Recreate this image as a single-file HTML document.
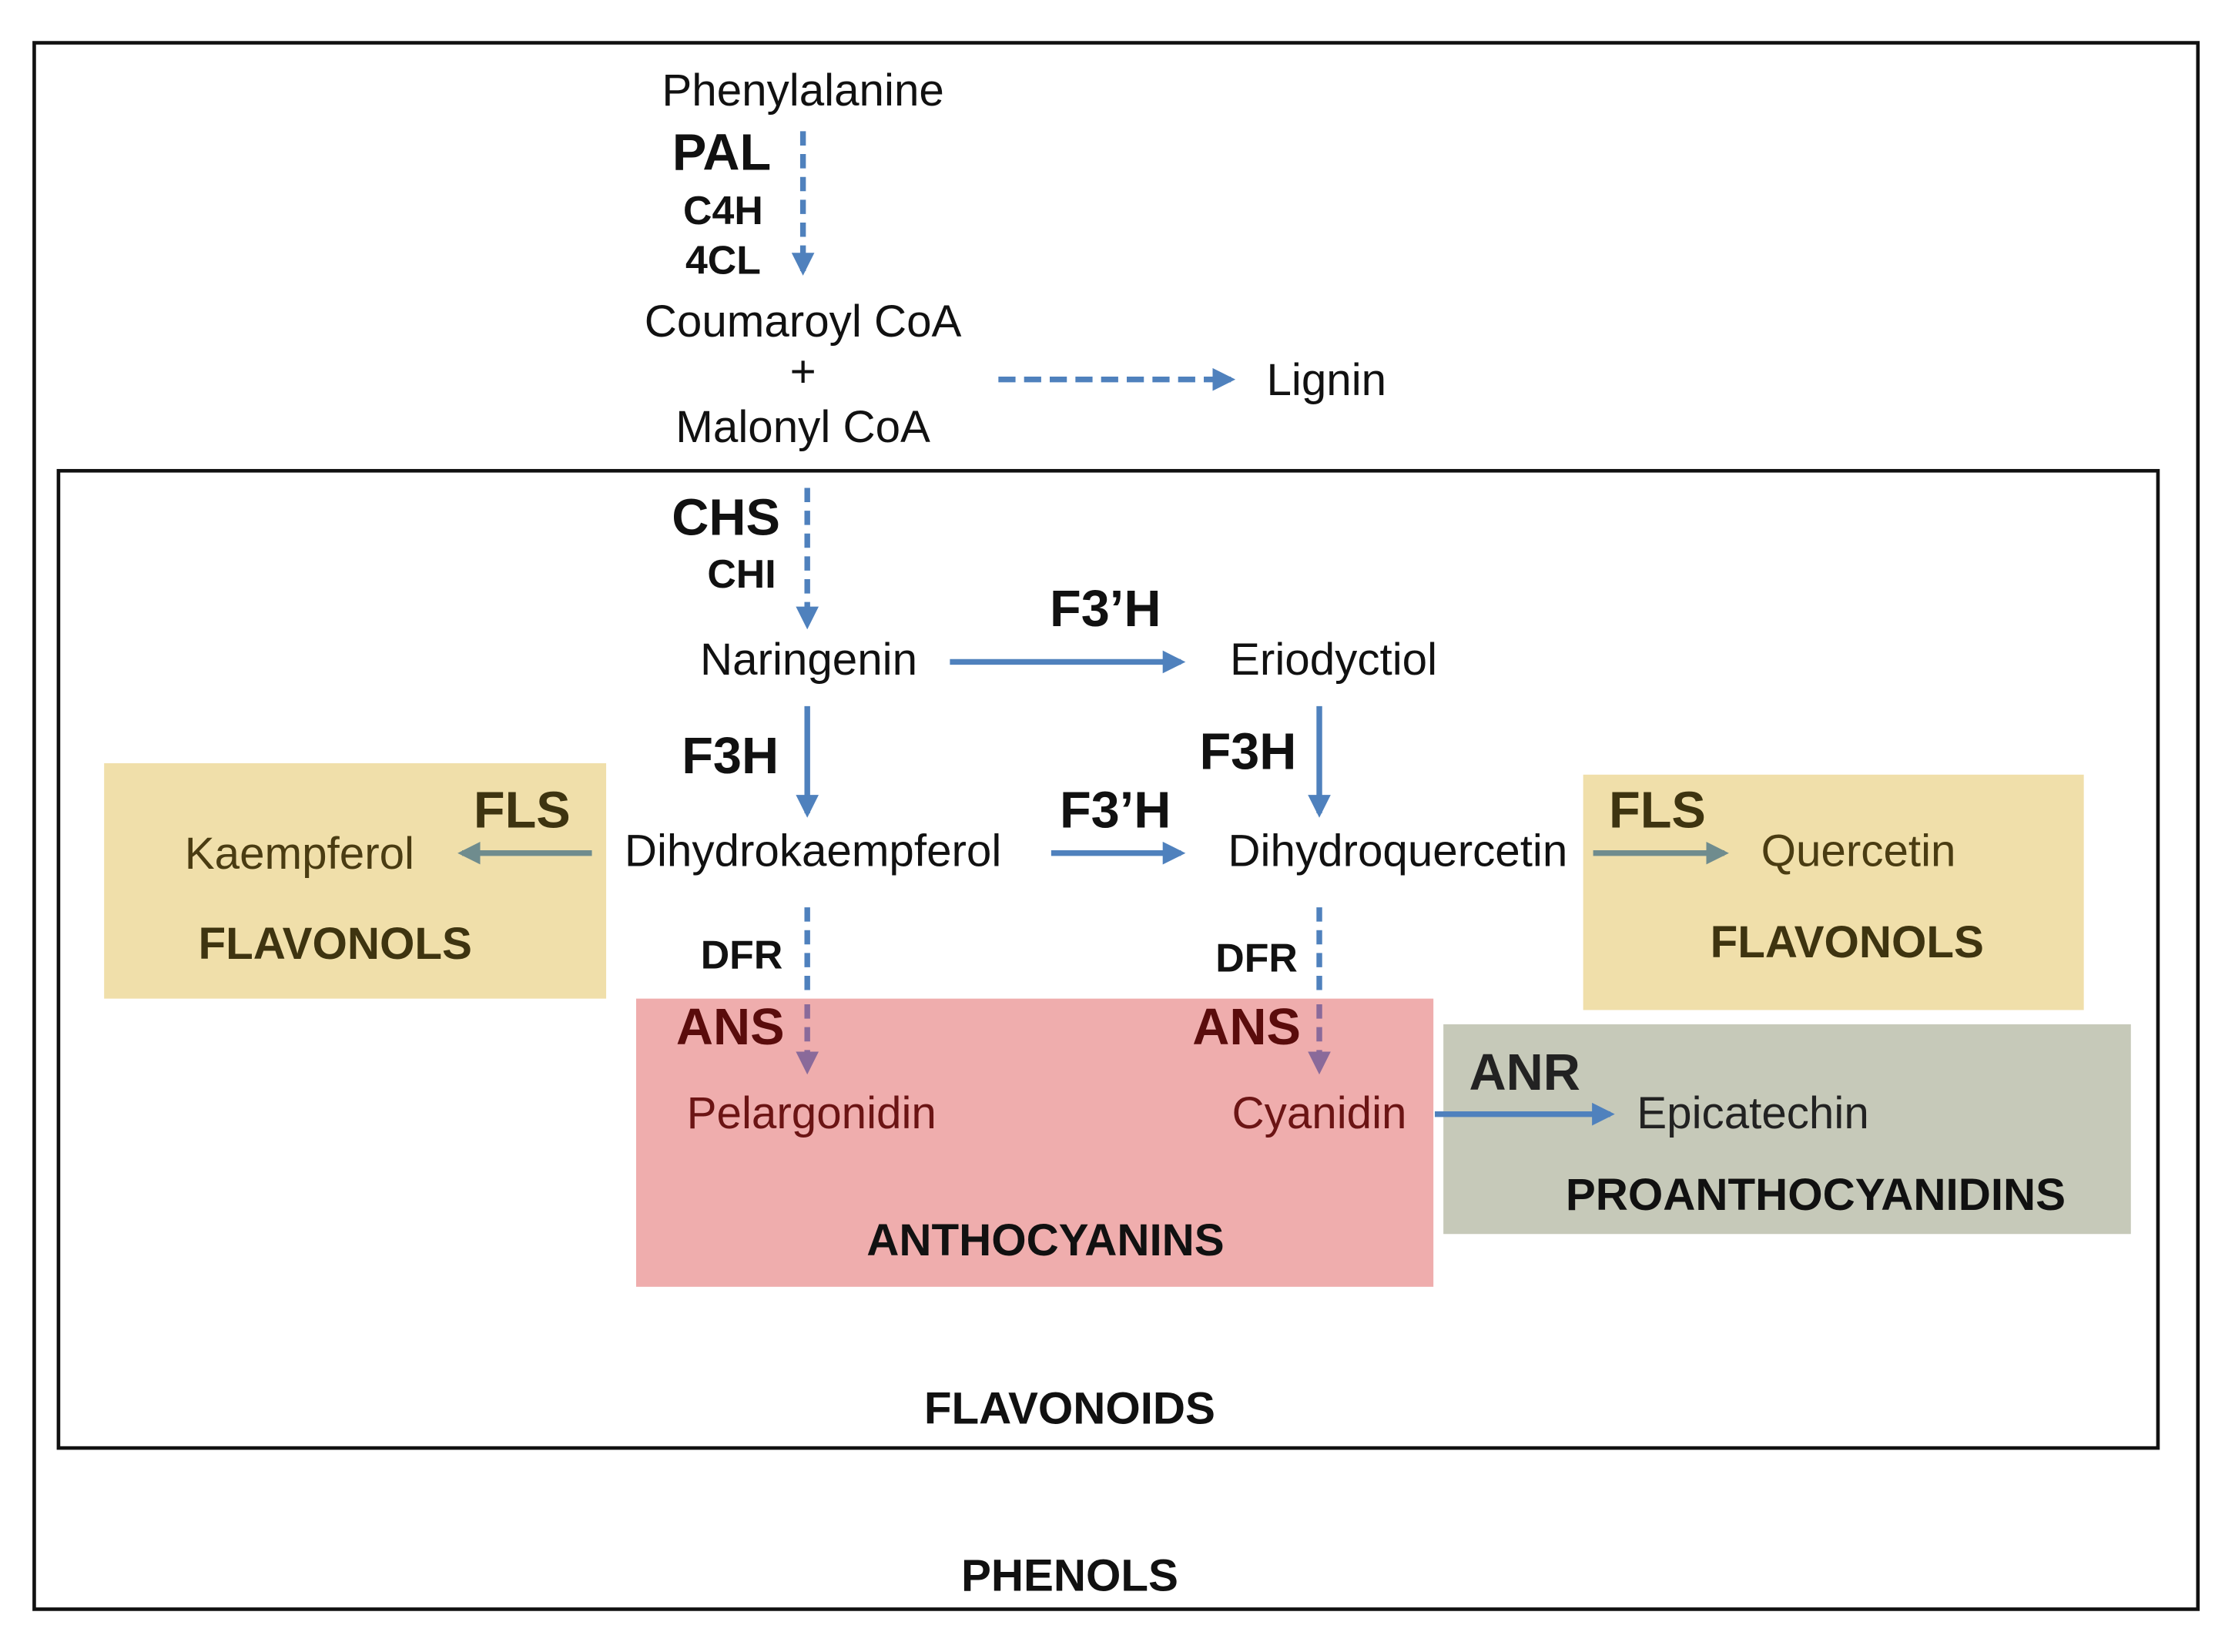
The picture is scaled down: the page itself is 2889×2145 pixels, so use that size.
<!DOCTYPE html>
<html><head><meta charset="utf-8"><style>html,body{margin:0;padding:0;background:#fff}svg{display:block}</style></head>
<body>
<svg width="2889" height="2145" viewBox="0 0 1560 1158" preserveAspectRatio="none" xmlns="http://www.w3.org/2000/svg" font-family="Liberation Sans, sans-serif">
<defs>
<marker id="ab" viewBox="0 0 10 10" refX="8" refY="5" markerWidth="4" markerHeight="4" orient="auto"><path d="M0,0 L10,5 L0,10 z" fill="#4f81bd"/></marker>
<marker id="ag" viewBox="0 0 10 10" refX="8" refY="5" markerWidth="4" markerHeight="4" orient="auto"><path d="M0,0 L10,5 L0,10 z" fill="#6f8c8e"/></marker>
<marker id="ap" viewBox="0 0 10 10" refX="8" refY="5" markerWidth="4" markerHeight="4" orient="auto"><path d="M0,0 L10,5 L0,10 z" fill="#8a6a9a"/></marker>
</defs>
<rect x="24" y="30" width="1517" height="1098" fill="none" stroke="#111" stroke-width="2.5"/>
<rect x="41" y="330" width="1472" height="685" fill="none" stroke="#111" stroke-width="2.5"/>
<rect x="73" y="535" width="352" height="165" fill="#f0dfaa"/>
<rect x="1110" y="543" width="351" height="165" fill="#f0dfaa"/>
<rect x="446" y="700" width="559" height="202" fill="#efadad"/>
<rect x="1012" y="718" width="482" height="147" fill="#c6c9b9"/>

<g stroke="#4f81bd" stroke-width="4" fill="none">
<line x1="563" y1="92" x2="563" y2="190" stroke-dasharray="10,6" marker-end="url(#ab)"/>
<line x1="700" y1="266" x2="863" y2="266" stroke-dasharray="12,6" marker-end="url(#ab)"/>
<line x1="566" y1="342" x2="566" y2="438" stroke-dasharray="10,6" marker-end="url(#ab)"/>
<line x1="666" y1="464" x2="828" y2="464" marker-end="url(#ab)"/>
<line x1="566" y1="495" x2="566" y2="570" marker-end="url(#ab)"/>
<line x1="925" y1="495" x2="925" y2="570" marker-end="url(#ab)"/>
<line x1="737" y1="598" x2="828" y2="598" marker-end="url(#ab)"/>
<line x1="566" y1="636" x2="566" y2="700" stroke-dasharray="10,6"/>
<line x1="925" y1="636" x2="925" y2="700" stroke-dasharray="10,6"/>
<line x1="1006" y1="781" x2="1129" y2="781" marker-end="url(#ab)"/>
</g>
<g stroke="#8a6a9a" stroke-width="4" fill="none">
<line x1="566" y1="704" x2="566" y2="750" stroke-dasharray="10,6" marker-end="url(#ap)"/>
<line x1="925" y1="704" x2="925" y2="750" stroke-dasharray="10,6" marker-end="url(#ap)"/>
</g>
<g stroke="#6f8c8e" stroke-width="4" fill="none">
<line x1="415" y1="598" x2="324" y2="598" marker-end="url(#ag)"/>
<line x1="1117" y1="598" x2="1209" y2="598" marker-end="url(#ag)"/>
</g>

<g font-size="31.5" fill="#111" text-anchor="middle">
<text x="563" y="74">Phenylalanine</text>
<text x="563" y="236">Coumaroyl CoA</text>
<text x="563" y="271">+</text>
<text x="563" y="310">Malonyl CoA</text>
<text x="930" y="277">Lignin</text>
<text x="567" y="473">Naringenin</text>
<text x="935" y="473">Eriodyctiol</text>
<text x="570" y="607">Dihydrokaempferol</text>
<text x="980" y="607">Dihydroquercetin</text>
</g>
<g font-size="31.5" text-anchor="middle">
<text x="210" y="609" fill="#4a3c12">Kaempferol</text>
<text x="1303" y="607" fill="#4a3c12">Quercetin</text>
<text x="569" y="791" fill="#6b1414">Pelargonidin</text>
<text x="925" y="791" fill="#6b1414">Cyanidin</text>
<text x="1229" y="791" fill="#222">Epicatechin</text>
</g>
<g font-weight="bold" fill="#111" text-anchor="middle">
<text x="506" y="119" font-size="36">PAL</text>
<text x="507" y="157" font-size="28">C4H</text>
<text x="507" y="192" font-size="28">4CL</text>
<text x="509" y="375" font-size="36">CHS</text>
<text x="520" y="412" font-size="28">CHI</text>
<text x="775" y="439" font-size="36">F3’H</text>
<text x="512" y="542" font-size="36">F3H</text>
<text x="875" y="539" font-size="36">F3H</text>
<text x="782" y="580" font-size="36">F3’H</text>
<text x="520" y="679" font-size="28">DFR</text>
<text x="881" y="681" font-size="28">DFR</text>
<text x="750" y="998" font-size="31.5">FLAVONOIDS</text>
<text x="750" y="1115" font-size="31.5">PHENOLS</text>
</g>
<g font-weight="bold" text-anchor="middle">
<text x="366" y="580" font-size="36" fill="#3e3410">FLS</text>
<text x="235" y="672" font-size="31.5" fill="#3e3410">FLAVONOLS</text>
<text x="1162" y="580" font-size="36" fill="#3e3410">FLS</text>
<text x="1295" y="671" font-size="31.5" fill="#3e3410">FLAVONOLS</text>
<text x="512" y="732" font-size="36" fill="#5a0c0c">ANS</text>
<text x="874" y="732" font-size="36" fill="#5a0c0c">ANS</text>
<text x="733" y="880" font-size="31.5" fill="#111">ANTHOCYANINS</text>
<text x="1069" y="764" font-size="36" fill="#222">ANR</text>
<text x="1273" y="848" font-size="31.5" fill="#111">PROANTHOCYANIDINS</text>
</g>
</svg>
</body></html>
